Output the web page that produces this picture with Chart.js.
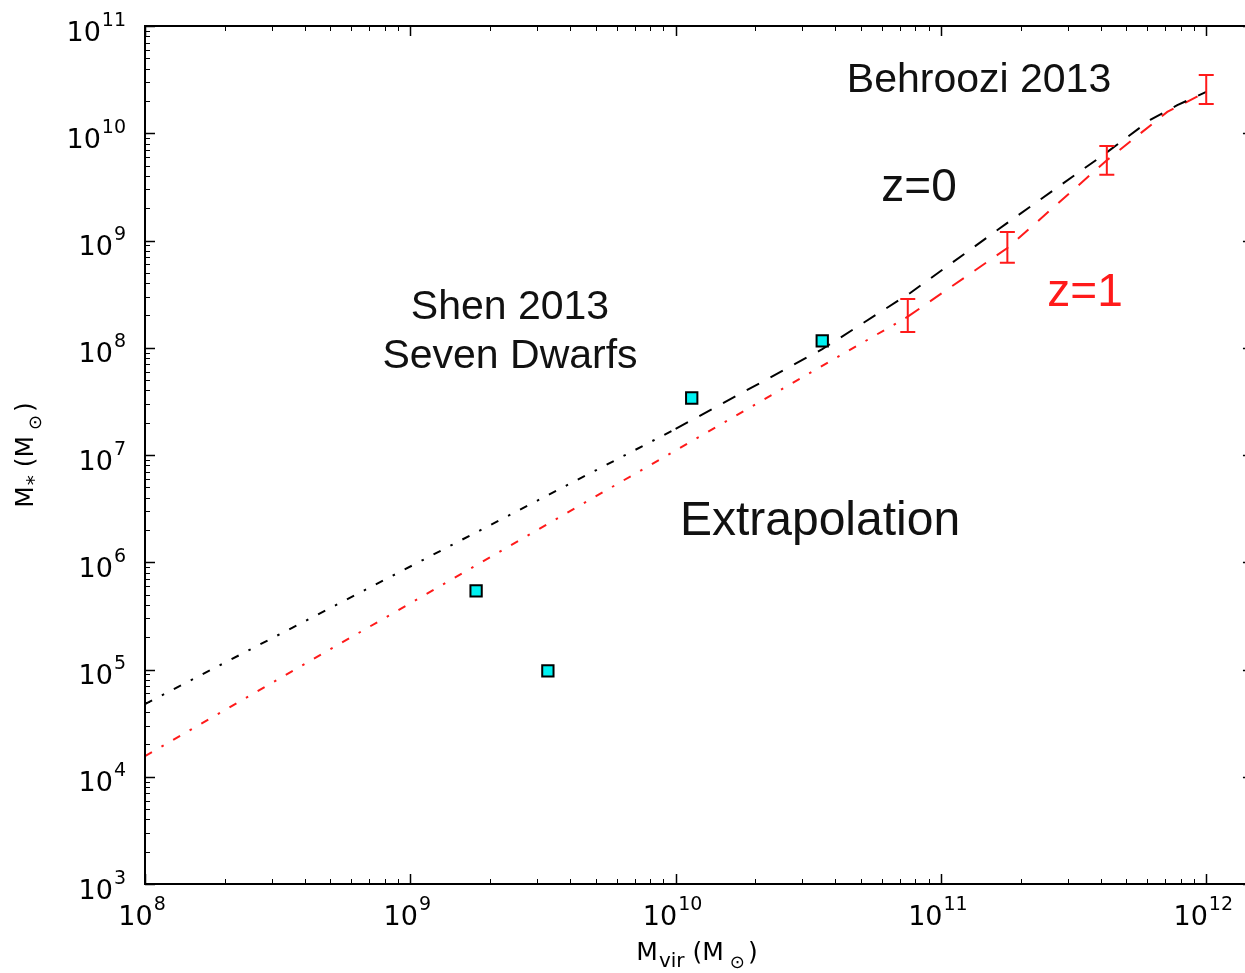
<!DOCTYPE html>
<html>
<head>
<meta charset="utf-8">
<script src="https://cdn.jsdelivr.net/npm/chart.js@4.4.0/dist/chart.umd.min.js"></script>
<style>
  html, body { margin: 0; padding: 0; background: #fff; overflow: hidden; }
  #c { display: block; }
</style>
</head>
<body>
<canvas id="c" width="1245" height="973"></canvas>
<script>
// z=0, extrapolated below Behroozi range (dash-dot)
const z0ExtrapMvir = [1e8, 1e10];
const z0ExtrapMstar = [4.76e4, 1.75e7];
// z=0, Behroozi 2013 (dashed)
const z0BehrMvir = [1e10, 3.57e10, 7.66e10, 1.78e11, 4.09e11, 6.15e11, 7.78e11, 1e12];
const z0BehrMstar = [1.75e7, 9.7e7, 3.24e8, 1.46e9, 6.27e9, 1.33e10, 1.83e10, 2.43e10];
// z=1, extrapolated (dash-dot)
const z1ExtrapMvir = [1e8, 7.5e10];
const z1ExtrapMstar = [1.56e4, 1.95e8];
// z=1, Behroozi 2013 (dashed)
const z1BehrMvir = [7.5e10, 1.78e11, 4.22e11, 7.13e11, 1e12];
const z1BehrMstar = [1.95e8, 8.5e8, 5.6e9, 1.58e10, 2.43e10];
// z=1 error bars
const errMvir = [7.5e10, 1.78e11, 4.22e11, 1e12];
const errLow = [1.4e8, 6.2e8, 4.1e9, 1.87e10];
const errHigh = [2.85e8, 1.2e9, 7.6e9, 3.5e10];
// Shen 2013 seven dwarfs (those inside the axes)
const dwarfMvir = [1.77e9, 3.3e9, 1.15e10, 3.57e10];
const dwarfMstar = [5.4e5, 9.7e4, 3.4e7, 1.16e8];
// tick decades; the right spine sits just past the window edge
const xTickExps = [8, 9, 10, 11, 12];
const yTickExps = [3, 4, 5, 6, 7, 8, 9, 10, 11];
const xFrameMax = 1.5e12;

const RED = '#ff1a1a';
const DASHDOT = [8, 11, 2.5, 11];
const DASHED = [14, 13];
const toXY = (xs, ys) => xs.map((x, i) => ({ x, y: ys[i] }));

// red error bars, placed through the chart scales
const errorBars = {
  id: 'errorBars',
  afterDatasetsDraw(chart) {
    const { ctx, scales: { x, y } } = chart;
    ctx.save();
    ctx.strokeStyle = RED;
    ctx.lineWidth = 2;
    errMvir.forEach((m, i) => {
      const px = x.getPixelForValue(m);
      const lo = y.getPixelForValue(errLow[i]);
      const hi = y.getPixelForValue(errHigh[i]);
      ctx.beginPath();
      ctx.moveTo(px, lo); ctx.lineTo(px, hi);
      ctx.moveTo(px - 7.5, lo); ctx.lineTo(px + 7.5, lo);
      ctx.moveTo(px - 7.5, hi); ctx.lineTo(px + 7.5, hi);
      ctx.stroke();
    });
    ctx.restore();
  }
};

// matplotlib-like frame: spines with inward major/minor ticks
const frame = {
  id: 'frame',
  afterDraw(chart) {
    const { ctx, chartArea: a, scales: { x, y } } = chart;
    const right = x.getPixelForValue(xFrameMax);
    ctx.save();
    ctx.strokeStyle = '#000';
    for (let e = 8; e <= 12; e++) {
      for (let k = 1; k <= 9; k++) {
        const v = k * 10 ** e;
        if (v < x.min || v > xFrameMax) continue;
        const p = Math.round(x.getPixelForValue(v)) + 0.5;
        const len = k === 1 ? 10 : 5;
        ctx.lineWidth = k === 1 ? 1.5 : 1;
        ctx.beginPath();
        ctx.moveTo(p, a.bottom); ctx.lineTo(p, a.bottom - len);
        ctx.moveTo(p, a.top); ctx.lineTo(p, a.top + len);
        ctx.stroke();
      }
    }
    for (let e = 3; e <= 11; e++) {
      for (let k = 1; k <= 9; k++) {
        const v = k * 10 ** e;
        if (v < y.min || v > y.max) continue;
        const p = Math.round(y.getPixelForValue(v)) + 0.5;
        const len = k === 1 ? 10 : 5;
        ctx.lineWidth = k === 1 ? 1.5 : 1;
        ctx.beginPath();
        ctx.moveTo(a.left, p); ctx.lineTo(a.left + len, p);
        ctx.moveTo(right, p); ctx.lineTo(right - len, p);
        ctx.stroke();
      }
    }
    ctx.lineWidth = 2;
    ctx.strokeRect(a.left, a.top, right - a.left, a.bottom - a.top);
    ctx.restore();
  }
};

// "10" with a raised exponent, like matplotlib's log tick labels
function drawPower(ctx, e, x, baseline, align) {
  ctx.font = '27px "DejaVu Sans"';
  const wb = ctx.measureText('10').width;
  ctx.font = '19px "DejaVu Sans"';
  const we = ctx.measureText(String(e)).width;
  const total = wb + 1 + we;
  const left = align === 'center' ? x - total / 2 : x - total;
  ctx.textAlign = 'left';
  ctx.textBaseline = 'alphabetic';
  ctx.font = '27px "DejaVu Sans"';
  ctx.fillText('10', left, baseline);
  ctx.font = '19px "DejaVu Sans"';
  ctx.fillText(String(e), left + wb + 1, baseline - 15);
}

function drawPieces(ctx, pieces, cx, baseline) {
  let total = 0;
  pieces.forEach((p) => {
    ctx.font = p.size + 'px "DejaVu Sans"';
    p.w = ctx.measureText(p.t).width + (p.gap || 0);
    total += p.w;
  });
  let x = cx - total / 2;
  ctx.textAlign = 'left';
  ctx.textBaseline = 'alphabetic';
  pieces.forEach((p) => {
    ctx.font = p.size + 'px "DejaVu Sans"';
    ctx.fillText(p.t, x, baseline + (p.dy || 0));
    x += p.w;
  });
}

const titlePieces = (sub) => [
  { t: 'M', size: 25, gap: 1 },
  { t: sub, size: 20, dy: 7, gap: 8 },
  { t: '(M', size: 25, gap: 6 },
  { t: '⊙', size: 18, dy: 8, gap: 3 },
  { t: ')', size: 25 }
];

const labels = {
  id: 'labels',
  afterDraw(chart) {
    const { ctx, chartArea: a, scales: { x, y } } = chart;
    ctx.save();
    ctx.fillStyle = '#000';
    x.ticks.forEach((t) => {
      drawPower(ctx, Math.round(Math.log10(t.value)), x.getPixelForValue(t.value) - 3, a.bottom + 41, 'center');
    });
    y.ticks.forEach((t) => {
      drawPower(ctx, Math.round(Math.log10(t.value)), a.left - 19, y.getPixelForValue(t.value) + 14.5, 'right');
    });
    // axis titles with subscripts
    drawPieces(ctx, titlePieces('vir'), 697, 960);
    ctx.save();
    ctx.translate(33, 455);
    ctx.rotate(-Math.PI / 2);
    drawPieces(ctx, titlePieces('*'), 0, 0);
    ctx.restore();
    // annotations
    ctx.textAlign = 'center';
    ctx.textBaseline = 'alphabetic';
    const txt = (t, px, py, size, color) => {
      ctx.font = size + 'px "Liberation Sans", Arial, sans-serif';
      ctx.fillStyle = color;
      ctx.fillText(t, px, py);
    };
    txt('Behroozi 2013', 979, 92, 41, '#111');
    txt('z=0', 919, 201, 46, '#111');
    txt('z=1', 1085, 306, 46, RED);
    txt('Shen 2013', 510, 319, 41, '#111');
    txt('Seven Dwarfs', 510, 368, 41, '#111');
    txt('Extrapolation', 820, 535, 48, '#111');
    ctx.restore();
  }
};

const lineDs = (label, xs, ys, color, dash, order) => ({
  label, data: toXY(xs, ys), showLine: true, fill: false, tension: 0,
  borderColor: color, borderWidth: 2, borderDash: dash,
  pointRadius: 0, pointHoverRadius: 0, order
});

new Chart(document.getElementById('c'), {
  type: 'scatter',
  data: {
    datasets: [
      {
        label: 'Seven Dwarfs', data: toXY(dwarfMvir, dwarfMstar),
        pointStyle: 'rect', pointRadius: 8, pointHoverRadius: 8,
        backgroundColor: '#00f2f2', borderColor: '#000', borderWidth: 2, order: 0
      },
      lineDs('z=0 extrapolation', z0ExtrapMvir, z0ExtrapMstar, '#000', DASHDOT, 2),
      lineDs('z=0 Behroozi', z0BehrMvir, z0BehrMstar, '#000', DASHED, 1),
      lineDs('z=1 extrapolation', z1ExtrapMvir, z1ExtrapMstar, RED, DASHDOT, 4),
      lineDs('z=1 Behroozi', z1BehrMvir, z1BehrMstar, RED, DASHED, 3)
    ]
  },
  options: {
    responsive: false,
    animation: false,
    events: [],
    layout: { autoPadding: false, padding: { top: 26, left: 0, right: 0, bottom: 0 } },
    plugins: { legend: { display: false }, tooltip: { enabled: false } },
    scales: {
      x: {
        type: 'logarithmic', position: 'bottom', min: 1e8, max: 1.4e12,
        grid: { display: false, drawTicks: false }, border: { display: false },
        ticks: { display: false },
        afterBuildTicks: (s) => { s.ticks = xTickExps.map((e) => ({ value: 10 ** e })); },
        afterFit: (s) => { s.height = 89; s.paddingLeft = 0; s.paddingRight = 0; }
      },
      y: {
        type: 'logarithmic', position: 'left', min: 1e3, max: 1e11,
        grid: { display: false, drawTicks: false }, border: { display: false },
        ticks: { display: false },
        afterBuildTicks: (s) => { s.ticks = yTickExps.map((e) => ({ value: 10 ** e })); },
        afterFit: (s) => { s.width = 145; s.paddingTop = 0; s.paddingBottom = 0; }
      }
    }
  },
  plugins: [errorBars, frame, labels]
});
</script>
</body>
</html>
